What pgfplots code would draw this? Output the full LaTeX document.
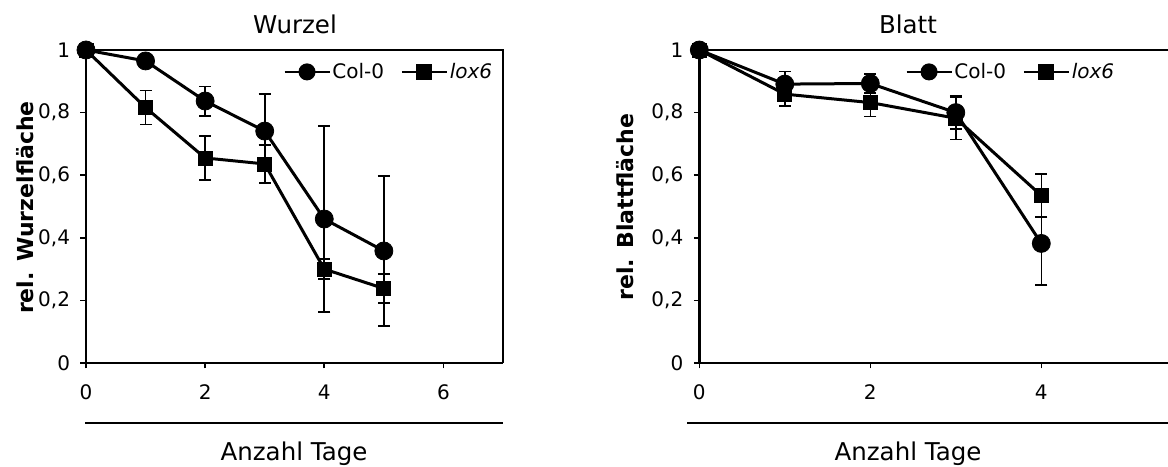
\documentclass[border=0pt]{standalone}
\usepackage{fontspec}
\setmainfont{DejaVu Sans}
\usepackage{pgfplots}
\pgfplotsset{compat=1.18}

\newcommand{\tickfont}{\fontsize{20bp}{24bp}\selectfont}
\newcommand{\legfont}{\fontsize{20bp}{24bp}\selectfont}
\newcommand{\titlefont}{\fontsize{24.5bp}{29bp}\selectfont}
\newcommand{\labelfont}{\fontsize{22bp}{26bp}\selectfont\bfseries}

\pgfplotsset{
  panel/.style={
    scale only axis, anchor=south west,
    height=313bp,
    xmin=0, ymin=0, ymax=1,
    axis lines=left,
    axis line style={-, line width=2.6bp},
    tick align=outside, major tick length=5.5bp,
    tick style={line width=1.6bp, black},
    ytick={0,0.2,0.4,0.6,0.8,1},
    yticklabels={0,{0,2},{0,4},{0,6},{0,8},1},
    /pgf/number format/assume math mode=true,
    tick label style={font=\tickfont},
    yticklabel style={xshift=-7bp},
    xticklabel style={yshift=-13bp},
    clip=false,
    legend columns=2,
    legend cell align=left,
    legend style={draw=none, fill=none, anchor=east, font=\legfont,
      inner sep=0pt, nodes={inner sep=1.5bp},
      /tikz/every even column/.append style={column sep=15bp}},
  },
  errs/.style={
    /pgfplots/error bars/y dir=both,
    /pgfplots/error bars/y explicit,
    /pgfplots/error bars/error bar style={line width=1.6bp, black},
    /pgfplots/error bars/error mark options={rotate=90, mark size=6bp, line width=1.6bp, black}},
  col/.style={errs, black, line width=3bp, mark=*, mark size=9bp,
    mark options={line width=0.8bp, fill=black},
    legend image code/.code={
      \draw[black, line width=2.7bp] (0bp,0bp) -- (45bp,0bp);
      \fill[black] (22.5bp,0bp) circle (7bp);}},
  lox/.style={errs, black, line width=3bp, mark=square*, mark size=7bp,
    mark options={line width=0.8bp, fill=black},
    legend image code/.code={
      \draw[black, line width=2.7bp] (0bp,0bp) -- (45bp,0bp);
      \fill[black] (16bp,-6.5bp) rectangle (29bp,6.5bp);}},
}

\begin{document}
\begin{tikzpicture}
\useasboundingbox (0bp,0bp) rectangle (1168bp,467bp);
\clip (0bp,0bp) rectangle (1168bp,467bp);

% ---------- Wurzel ----------
\begin{axis}[panel, at={(86bp,104bp)}, width=417bp, xmax=7,
  xtick={0,2,4,6},
  legend style={at={(0.978,0.93)}}]
  \addplot[col] coordinates {
    (0,1.000) +- (0,0)
    (1,0.965) +- (0,0.020)
    (2,0.837) +- (0,0.047)
    (3,0.741) +- (0,0.118)
    (4,0.460) +- (0,0.297)
    (5,0.358) +- (0,0.240)
  };
  \addlegendentry{Col-0}
  \addplot[lox] coordinates {
    (0,1.000) +- (0,0)
    (1,0.816) +- (0,0.054)
    (2,0.655) +- (0,0.071)
    (3,0.636) +- (0,0.060)
    (4,0.300) +- (0,0.032)
    (5,0.238) +- (0,0.047)
  };
  \addlegendentry{\textit{lox6}}
  \draw[line width=1.5bp] (rel axis cs:0,1) -- (rel axis cs:1,1) -- (rel axis cs:1,0);
\end{axis}

% ---------- Blatt ----------
\begin{axis}[panel, at={(699.3bp,104bp)}, width=513bp, xmax=6,
  xtick={0,2,4},
  legend style={at={(0.812,0.93)}}]
  \addplot[col] coordinates {
    (0,1.000) +- (0,0)
    (1,0.891) +- (0,0.040)
    (2,0.893) +- (0,0.030)
    (3,0.800) +- (0,0.053)
    (4,0.382) +- (0,0.133)
  };
  \addlegendentry{Col-0}
  \addplot[lox] coordinates {
    (0,1.000) +- (0,0)
    (1,0.859) +- (0,0.038)
    (2,0.832) +- (0,0.045)
    (3,0.782) +- (0,0.068)
    (4,0.535) +- (0,0.069)
  };
  \addlegendentry{\textit{lox6}}
  \draw[line width=1.5bp] (rel axis cs:0,1) -- (rel axis cs:1,1) -- (rel axis cs:1,0);
\end{axis}

% titles, axis titles and rules
\node[anchor=base, font=\titlefont] at (295bp,433.7bp) {Wurzel};
\node[anchor=base, font=\titlefont] at (908bp,433.7bp) {Blatt};
\draw[line width=1.6bp] (85bp,44bp) -- (503bp,44bp);
\draw[line width=1.6bp] (687bp,44bp) -- (1168bp,44bp);
\node[anchor=base, font=\titlefont] at (294bp,7bp) {Anzahl Tage};
\node[anchor=base, font=\titlefont] at (908bp,7bp) {Anzahl Tage};
\node[anchor=base, rotate=90, font=\labelfont] at (33bp,259.5bp) {rel. Wurzelfläche};
\node[anchor=base, rotate=90, font=\labelfont] at (633.5bp,260bp) {rel. Blattfläche};
\end{tikzpicture}
\end{document}
